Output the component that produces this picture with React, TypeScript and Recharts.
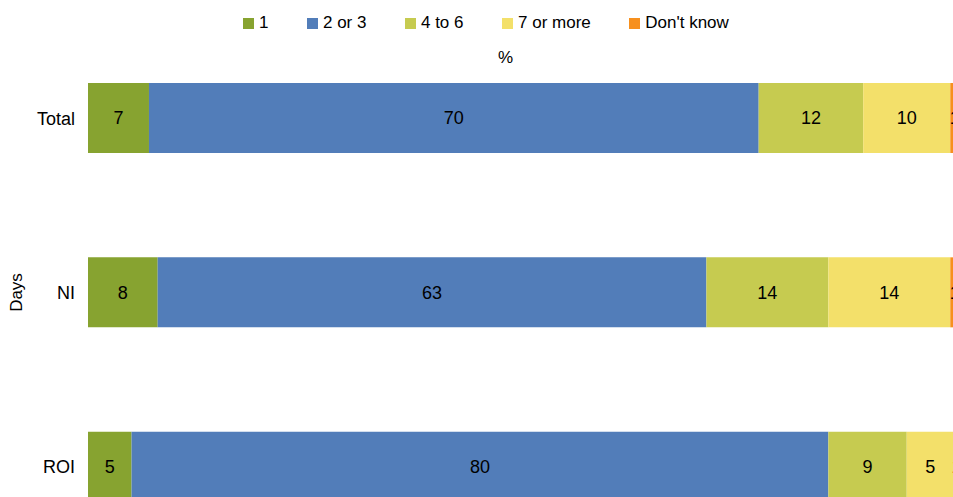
import { BarChart, Bar, XAxis, YAxis, LabelList, Label } from "recharts";

const categories = ["Total", "NI", "ROI"];
const seriesNames = ["1", "2 or 3", "4 to 6", "7 or more", "Don't know"];
const one = [7, 8, 5];
const twoOrThree = [70, 63, 80];
const fourToSix = [12, 14, 9];
const sevenOrMore = [10, 14, 5.4];
const dontKnow = [1, 1, 0.6];

const colors = ["#87a330", "#527db9", "#c6cb50", "#f3e06a", "#f7901e"];
const keys = ["one", "twoOrThree", "fourToSix", "sevenOrMore", "dontKnow"];

const data = categories.map((name, i) => ({
  name,
  one: one[i],
  twoOrThree: twoOrThree[i],
  fourToSix: fourToSix[i],
  sevenOrMore: sevenOrMore[i],
  dontKnow: dontKnow[i],
}));

const font = "'Liberation Sans', Arial, sans-serif";

function DaysLabel({ viewBox }: any) {
  const cy = viewBox.y + viewBox.height / 2;
  return (
    <text
      x={16}
      y={cy}
      transform={`rotate(-90, 16, ${cy})`}
      textAnchor="middle"
      dominantBaseline="central"
      fontSize={17}
      fill="#000"
      fontFamily={font}
    >
      Days
    </text>
  );
}

export default function App() {
  return (
    <div
      style={{
        position: "relative",
        width: 953,
        height: 497,
        overflow: "hidden",
        background: "#fff",
        fontFamily: font,
      }}
    >
      <style>{`body{margin:0}`}</style>
      <BarChart
        width={970}
        height={570}
        data={data}
        layout="vertical"
        margin={{ top: 31, right: 11, left: 0, bottom: 16 }}
        barSize={70}
      >
        <XAxis type="number" domain={[0, 100]} hide />
        <YAxis
          type="category"
          dataKey="name"
          width={88}
          axisLine={false}
          tickLine={false}
          tickMargin={7}
          tick={{ fontSize: 18, fill: "#000", fontFamily: font }}
        >
          <Label content={<DaysLabel />} />
        </YAxis>
        {keys.map((k, i) => (
          <Bar key={k} dataKey={k} stackId="a" fill={colors[i]} isAnimationActive={false}>
            <LabelList
              dataKey={k}
              position="center"
              fill="#000"
              fontSize={18}
              fontFamily={font}
              formatter={(v: any) => Math.round(Number(v))}
            />
          </Bar>
        ))}
      </BarChart>
      <div
        style={{
          position: "absolute",
          left: 243,
          top: 13,
          height: 20,
          display: "flex",
          alignItems: "center",
          fontSize: 17,
          color: "#000",
          whiteSpace: "nowrap",
        }}
      >
        {seriesNames.map((s, i) => (
          <div key={s} style={{ display: "flex", alignItems: "center", marginRight: 38.5 }}>
            <span style={{ width: 11, height: 11, background: colors[i], marginRight: 5, display: "inline-block" }} />
            <span>{s}</span>
          </div>
        ))}
      </div>
      <div style={{ position: "absolute", left: 498, top: 48, fontSize: 17, color: "#000" }}>%</div>
    </div>
  );
}
